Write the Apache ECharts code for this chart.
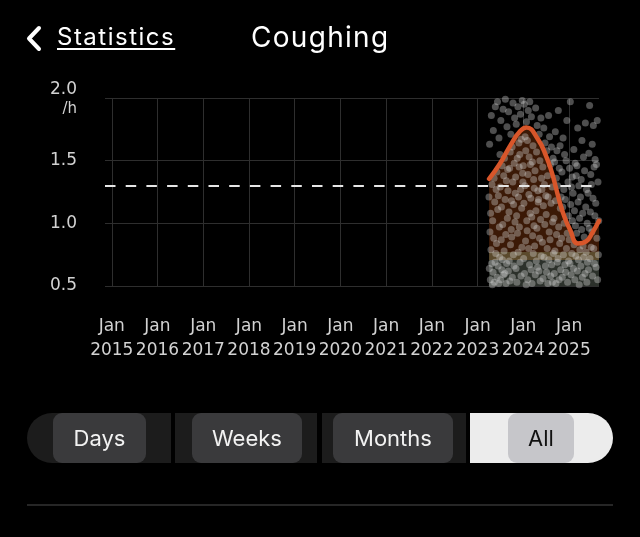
<!DOCTYPE html>
<html>
<head>
<meta charset="utf-8">
<script src="https://cdn.jsdelivr.net/npm/echarts@6/dist/echarts.min.js"></script>
<style>
html,body{margin:0;padding:0;background:#000;width:640px;height:537px;overflow:hidden;font-family:Inter,"Noto Sans",sans-serif;}
#chart{position:absolute;left:0;top:0;width:640px;height:537px;}
.abs{position:absolute;white-space:nowrap;}
.back{left:57px;top:24px;font-size:24px;line-height:26px;letter-spacing:1.5px;color:#fff;text-decoration:underline;text-underline-offset:3px;text-decoration-thickness:2px;}
.title{left:251px;top:21px;font-size:28px;line-height:32px;letter-spacing:1.3px;color:#fff;}
.seg{top:413px;height:50px;background:#1c1c1c;}
.btn{top:413px;height:50px;line-height:50px;text-align:center;background:#3a3a3c;border-radius:9px;font-size:22px;color:#f2f2f2;}
.sel{background:#c6c6ca;color:#111;}
.rule{left:27px;top:504px;width:586px;height:2px;background:#262626;}
</style>
</head>
<body>
<div id="chart"></div>
<svg class="abs" style="left:0;top:0" width="60" height="70"><polyline points="39,28 29,38.5 39,49" fill="none" stroke="#fff" stroke-width="4" stroke-linecap="round" stroke-linejoin="round"/></svg>
<div class="abs back">Statistics</div>
<div class="abs title">Coughing</div>
<div class="abs seg" style="left:27px;width:144px;border-radius:25px 0 0 25px;"></div>
<div class="abs seg" style="left:175px;width:142px;"></div>
<div class="abs seg" style="left:322px;width:144px;"></div>
<div class="abs seg" style="left:470px;width:143px;border-radius:0 25px 25px 0;background:#ececec;"></div>
<div class="abs btn" style="left:53px;width:93px;">Days</div>
<div class="abs btn" style="left:192px;width:110px;">Weeks</div>
<div class="abs btn" style="left:333px;width:120px;">Months</div>
<div class="abs btn sel" style="left:508px;width:66px;">All</div>
<div class="abs rule"></div>
<script>
// ---- data ----
const axisStart = '2014-11-08';
const axisEnd = '2025-08-28';
const yMin = 0.5, yMax = 2.0, yStep = 0.5;
const unitLabel = '/h';
const tickMonthLabel = 'Jan';
const thresholdValue = 1.3;
const bandLevels = [0.71, 0.77];

const trendDates = ['2023-04-03','2023-06-28','2023-09-26','2023-12-01','2024-01-25','2024-04-28','2024-07-04','2024-08-18','2024-09-19','2024-10-21','2024-11-22','2025-01-08','2025-03-13','2025-05-16','2025-07-03','2025-08-28'];
const trendValues = [1.355,1.475,1.632,1.728,1.765,1.67,1.53,1.40,1.28,1.16,1.06,0.95,0.84,0.855,0.92,1.02];

const dailyDots = [
['2023-04-02',1.21],['2023-04-05',0.64],['2023-04-07',1.63],['2023-04-10',0.93],['2023-04-13',0.55],['2023-04-15',1.08],['2023-04-18',0.79],['2023-04-21',1.86],['2023-04-23',0.68],['2023-04-26',1.31],['2023-04-29',0.51],
['2023-05-02',1.02],['2023-05-05',0.61],['2023-05-07',1.74],['2023-05-10',0.88],['2023-05-13',1.36],['2023-05-15',0.53],['2023-05-18',1.17],['2023-05-21',0.69],['2023-05-23',1.93],['2023-05-26',0.76],['2023-05-29',1.27],
['2023-06-01',0.84],['2023-06-04',1.41],['2023-06-06',0.57],['2023-06-09',1.97],['2023-06-11',1.11],['2023-06-14',0.66],['2023-06-16',1.22],['2023-06-19',0.52],['2023-06-21',1.68],['2023-06-24',0.97],['2023-06-27',0.73],['2023-06-29',1.55],
['2023-07-01',1.29],['2023-07-04',0.55],['2023-07-06',1.82],['2023-07-09',0.87],['2023-07-11',1.13],['2023-07-14',0.63],['2023-07-16',1.46],['2023-07-19',0.71],['2023-07-21',0.99],['2023-07-24',1.91],['2023-07-27',0.59],['2023-07-29',1.38],
['2023-08-01',0.78],['2023-08-04',1.52],['2023-08-06',0.60],['2023-08-09',1.19],['2023-08-11',1.99],['2023-08-14',0.91],['2023-08-16',0.52],['2023-08-19',1.34],['2023-08-21',0.68],['2023-08-24',1.77],['2023-08-27',1.04],['2023-08-29',1.43],
['2023-09-01',1.26],['2023-09-04',0.62],['2023-09-06',1.89],['2023-09-09',1.09],['2023-09-11',0.70],['2023-09-14',1.44],['2023-09-16',0.54],['2023-09-19',1.57],['2023-09-21',0.83],['2023-09-24',1.71],['2023-09-27',0.95],['2023-09-29',1.18],
['2023-10-01',0.89],['2023-10-04',1.61],['2023-10-06',0.57],['2023-10-09',1.33],['2023-10-11',1.96],['2023-10-14',0.75],['2023-10-16',1.15],['2023-10-19',0.66],['2023-10-21',1.48],['2023-10-24',1.84],['2023-10-27',1.01],['2023-10-29',1.24],
['2023-11-01',1.37],['2023-11-04',0.64],['2023-11-06',1.79],['2023-11-09',1.06],['2023-11-11',0.53],['2023-11-14',1.52],['2023-11-16',0.92],['2023-11-19',1.93],['2023-11-21',0.77],['2023-11-24',1.21],['2023-11-27',1.64],['2023-11-29',1.45],
['2023-12-01',0.97],['2023-12-04',1.55],['2023-12-06',0.69],['2023-12-09',1.87],['2023-12-11',1.27],['2023-12-14',0.58],['2023-12-16',1.67],['2023-12-19',1.12],['2023-12-21',0.81],['2023-12-24',1.98],['2023-12-27',1.40],['2023-12-29',1.33],
['2024-01-01',1.46],['2024-01-04',0.72],['2024-01-06',1.16],['2024-01-09',1.95],['2024-01-11',0.60],['2024-01-14',1.30],['2024-01-16',1.69],['2024-01-19',0.86],['2024-01-21',1.58],['2024-01-24',0.51],['2024-01-27',1.81],['2024-01-29',1.02],
['2024-02-01',0.94],['2024-02-03',1.66],['2024-02-06',0.55],['2024-02-08',1.39],['2024-02-10',1.90],['2024-02-13',0.80],['2024-02-15',1.23],['2024-02-17',1.53],['2024-02-20',0.67],['2024-02-22',1.97],['2024-02-25',1.08],['2024-02-27',1.47],
['2024-03-01',1.20],['2024-03-04',0.63],['2024-03-06',1.85],['2024-03-09',1.05],['2024-03-11',0.52],['2024-03-14',1.49],['2024-03-16',0.90],['2024-03-19',1.62],['2024-03-21',0.76],['2024-03-24',1.35],['2024-03-27',0.98],['2024-03-29',1.28],
['2024-04-01',0.82],['2024-04-04',1.42],['2024-04-06',0.59],['2024-04-09',1.92],['2024-04-11',1.10],['2024-04-14',0.70],['2024-04-16',1.57],['2024-04-19',0.96],['2024-04-21',1.78],['2024-04-24',0.65],['2024-04-27',1.26],['2024-04-29',1.17],
['2024-05-02',1.19],['2024-05-05',0.62],['2024-05-07',1.71],['2024-05-10',0.88],['2024-05-13',1.50],['2024-05-15',0.54],['2024-05-18',1.03],['2024-05-21',1.84],['2024-05-23',0.74],['2024-05-26',1.36],['2024-05-29',1.27],
['2024-06-02',0.85],['2024-06-05',1.45],['2024-06-07',0.56],['2024-06-10',1.14],['2024-06-13',1.76],['2024-06-15',0.73],['2024-06-18',1.31],['2024-06-21',0.99],['2024-06-23',1.64],['2024-06-26',0.66],['2024-06-29',1.22],
['2024-07-02',1.07],['2024-07-05',0.61],['2024-07-07',1.58],['2024-07-10',0.80],['2024-07-13',1.38],['2024-07-15',0.52],['2024-07-18',1.21],['2024-07-21',1.86],['2024-07-23',0.71],['2024-07-26',0.93],['2024-07-29',1.69],
['2024-08-02',0.87],['2024-08-05',1.47],['2024-08-07',0.58],['2024-08-10',1.16],['2024-08-13',1.61],['2024-08-15',0.67],['2024-08-18',1.29],['2024-08-21',0.53],['2024-08-23',1.01],['2024-08-26',1.52],['2024-08-29',0.76],
['2024-09-02',1.04],['2024-09-05',0.60],['2024-09-07',1.49],['2024-09-10',0.78],['2024-09-13',1.73],['2024-09-15',1.18],['2024-09-18',0.52],['2024-09-21',1.36],['2024-09-23',0.91],['2024-09-26',1.58],['2024-09-29',0.69],
['2024-10-02',1.30],['2024-10-05',0.72],['2024-10-07',1.90],['2024-10-10',0.97],['2024-10-13',0.55],['2024-10-15',1.44],['2024-10-18',0.84],['2024-10-21',1.62],['2024-10-23',1.12],['2024-10-26',0.63],['2024-10-29',1.21],
['2024-11-02',0.88],['2024-11-05',1.41],['2024-11-08',0.57],['2024-11-11',1.13],['2024-11-14',1.68],['2024-11-17',0.75],['2024-11-20',1.27],['2024-11-23',1.00],['2024-11-26',1.55],['2024-11-28',0.67],
['2024-12-02',1.19],['2024-12-05',0.61],['2024-12-08',1.50],['2024-12-11',0.80],['2024-12-14',1.82],['2024-12-17',0.92],['2024-12-20',0.53],['2024-12-23',1.33],['2024-12-26',1.06],['2024-12-28',0.70],
['2025-01-02',0.87],['2025-01-05',1.44],['2025-01-08',0.68],['2025-01-11',1.97],['2025-01-14',1.15],['2025-01-17',0.59],['2025-01-20',1.29],['2025-01-23',0.76],['2025-01-26',1.37],['2025-01-28',1.02],
['2025-02-02',1.24],['2025-02-05',0.64],['2025-02-08',1.59],['2025-02-10',0.83],['2025-02-13',1.10],['2025-02-16',0.55],['2025-02-19',1.48],['2025-02-21',0.98],['2025-02-24',0.74],['2025-02-27',1.38],
['2025-03-02',0.92],['2025-03-05',1.46],['2025-03-08',0.62],['2025-03-11',1.76],['2025-03-14',1.17],['2025-03-17',0.71],['2025-03-20',1.30],['2025-03-23',0.51],['2025-03-26',1.04],['2025-03-28',0.79],
['2025-04-02',1.21],['2025-04-05',0.66],['2025-04-08',1.35],['2025-04-11',0.95],['2025-04-14',1.66],['2025-04-17',0.57],['2025-04-20',1.08],['2025-04-23',0.82],['2025-04-26',1.53],['2025-04-28',0.73],
['2025-05-02',0.89],['2025-05-05',1.42],['2025-05-08',0.60],['2025-05-11',1.80],['2025-05-14',1.13],['2025-05-17',0.77],['2025-05-20',1.27],['2025-05-23',0.53],['2025-05-26',1.00],['2025-05-28',0.69],
['2025-06-02',1.24],['2025-06-05',0.63],['2025-06-08',1.56],['2025-06-11',0.96],['2025-06-14',1.94],['2025-06-17',0.72],['2025-06-20',1.09],['2025-06-23',1.39],['2025-06-26',0.81],['2025-06-28',1.31],
['2025-07-02',0.93],['2025-07-05',1.63],['2025-07-08',0.58],['2025-07-11',1.20],['2025-07-14',1.78],['2025-07-17',0.80],['2025-07-20',1.45],['2025-07-23',0.68],['2025-07-26',1.06],['2025-07-28',1.51],
['2025-08-02',1.16],['2025-08-05',0.65],['2025-08-08',1.47],['2025-08-11',0.88],['2025-08-14',1.82],['2025-08-17',0.55],['2025-08-20',1.33],['2025-08-23',0.75],['2025-08-26',1.02]
];

// ---- styling ----
const font = 'DejaVu Sans';
const labelColor = '#d2d2d2';
const gridColor = '#2e2e2e';
const oneYear = 365 * 24 * 3600 * 1000;
const trend = trendDates.map((d, i) => [d, trendValues[i]]);

const chart = echarts.init(document.getElementById('chart'), null, {renderer: 'canvas'});
chart.setOption({
  backgroundColor: 'transparent',
  animation: false,
  grid: {left: 105, right: 41, top: 98, bottom: 251, outerBoundsMode: 'none', containLabel: false},
  xAxis: {
    type: 'time', min: axisStart, max: axisEnd,
    splitNumber: 11, minInterval: oneYear, maxInterval: oneYear,
    axisLine: {show: false}, axisTick: {show: false},
    splitLine: {show: true, showMinLine: false, showMaxLine: false, lineStyle: {color: gridColor, width: 1}},
    axisLabel: {
      color: labelColor, fontSize: 17, fontFamily: font, lineHeight: 24, margin: 29, hideOverlap: false,
      formatter: function (value) {
        const d = new Date(value);
        return (d.getMonth() === 0 && d.getDate() === 1) ? tickMonthLabel + '\n' + d.getFullYear() : '';
      }
    }
  },
  yAxis: {
    type: 'value', min: yMin, max: yMax, interval: yStep,
    axisLine: {show: false}, axisTick: {show: false},
    splitLine: {show: true, lineStyle: {color: gridColor, width: 1}},
    axisLabel: {
      color: labelColor, fontSize: 17, fontFamily: font, margin: 28,
      formatter: function (v) {
        return v === yMax ? '{top|' + v.toFixed(1) + '}\n{unit|' + unitLabel + '}' : v.toFixed(1);
      },
      rich: {
        top: {fontSize: 17, fontFamily: font, color: labelColor, lineHeight: 22, padding: [6, 0, 0, 0]},
        unit: {fontSize: 15, fontFamily: font, color: labelColor, lineHeight: 22}
      }
    }
  },
  visualMap: {
    type: 'piecewise', show: false, seriesIndex: 0, dimension: 1,
    pieces: [
      {lt: bandLevels[0], color: '#2c312b'},
      {gte: bandLevels[0], lt: bandLevels[1], color: '#5b4a2c'},
      {gte: bandLevels[1], color: '#3b1906'}
    ]
  },
  series: [
    {
      type: 'line', data: trend, smooth: true, showSymbol: false, z: 1, silent: true,
      lineStyle: {width: 0}, areaStyle: {opacity: 1}
    },
    {
      type: 'scatter', data: dailyDots, symbolSize: 7, z: 2, silent: true,
      itemStyle: {color: 'rgba(215,215,215,0.45)'}
    },
    {
      type: 'line', data: [], z: 3, silent: true,
      markLine: {
        symbol: 'none', silent: true, label: {show: false}, animation: false,
        lineStyle: {color: '#e6e6e6', type: [10.5, 10.2], width: 2},
        data: [{yAxis: thresholdValue}]
      }
    },
    {
      type: 'line', data: trend, smooth: true, showSymbol: false, z: 4, silent: true,
      lineStyle: {color: '#d8562a', width: 4.5, cap: 'round', join: 'round'}
    }
  ]
});
</script>
</body>
</html>
